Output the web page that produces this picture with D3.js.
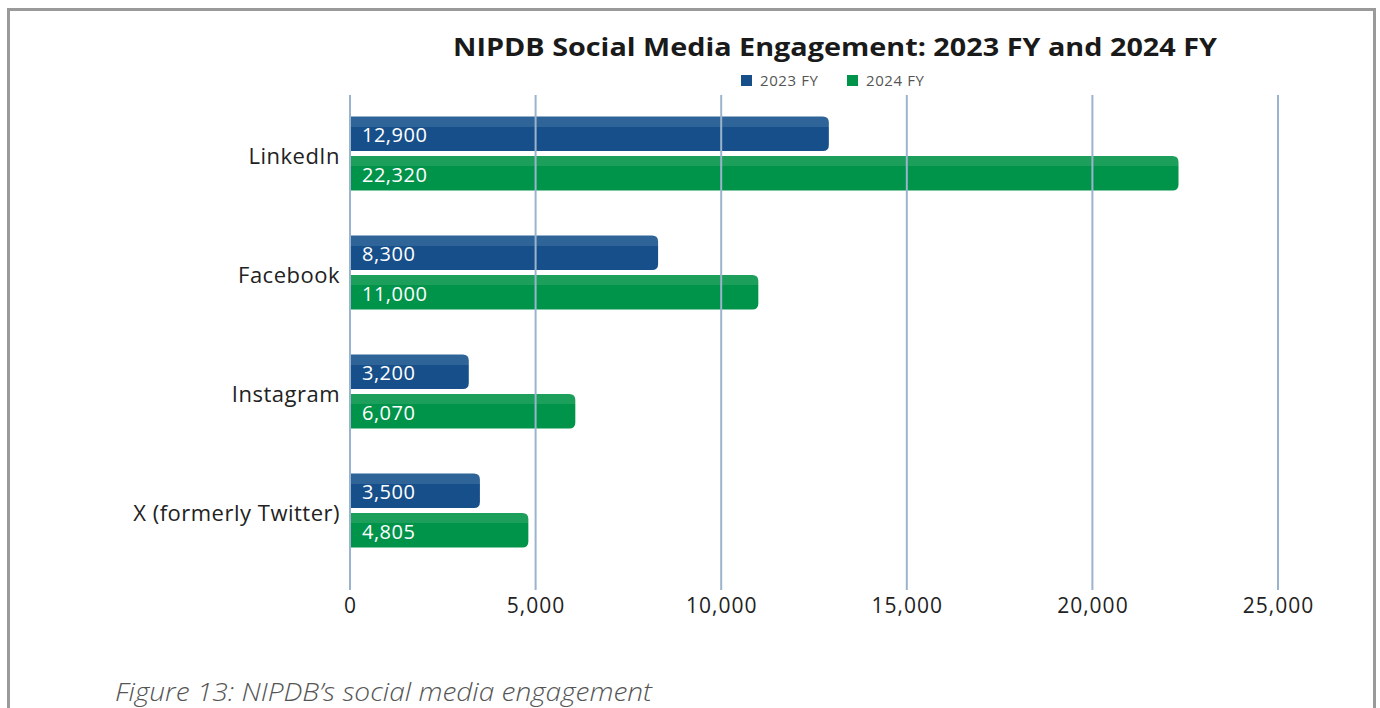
<!DOCTYPE html>
<html>
<head>
<meta charset="utf-8">
<script src="https://cdn.jsdelivr.net/npm/d3@7"></script>
<style>
  body { margin: 0; background: #fff; }
  svg { display: block; font-family: "Open Sans", "Noto Sans", sans-serif; }
</style>
</head>
<body>
<svg id="chart" width="1380" height="708"></svg>
<script>
const platforms = ['LinkedIn', 'Facebook', 'Instagram', 'X (formerly Twitter)'];
const seriesNames = ['2023 FY', '2024 FY'];
const values2023 = [12900, 8300, 3200, 3500];
const values2024 = [22320, 11000, 6070, 4805];
const xTicks = [0, 5000, 10000, 15000, 20000, 25000];

const colors = { '2023 FY': ['#2e6497', '#174f8a'], '2024 FY': ['#1c9f5b', '#00944a'] };

const svg = d3.select('#chart');

// outer frame (bottom edge falls outside the picture)
svg.append('rect')
  .attr('x', 8.5).attr('y', 9.5)
  .attr('width', 1366).attr('height', 740)
  .attr('fill', 'none')
  .attr('stroke', '#9a9a9a')
  .attr('stroke-width', 3);

const defs = svg.append('defs');
seriesNames.forEach((s, i) => {
  const g = defs.append('linearGradient')
    .attr('id', 'grad' + i)
    .attr('x1', 0).attr('y1', 0).attr('x2', 0).attr('y2', 1);
  g.append('stop').attr('offset', 0).attr('stop-color', colors[s][0]);
  g.append('stop').attr('offset', 0.3).attr('stop-color', colors[s][0]);
  g.append('stop').attr('offset', 0.3).attr('stop-color', colors[s][1]);
  g.append('stop').attr('offset', 1).attr('stop-color', colors[s][1]);
});

const x = d3.scaleLinear().domain([0, 25000]).range([350, 1278]);

const y = d3.scaleBand()
  .domain(platforms)
  .range([94, 570])
  .paddingInner(0.378)
  .paddingOuter(0.189);

const ySub = d3.scaleBand()
  .domain(seriesNames)
  .range([0, y.bandwidth()])
  .paddingInner(0.13);

const rows = platforms.map((p, i) => ({
  platform: p,
  bars: [
    { series: '2023 FY', idx: 0, value: values2023[i] },
    { series: '2024 FY', idx: 1, value: values2024[i] }
  ]
}));

function barPath(x0, x1, y0, h, r) {
  return `M${x0},${y0}H${x1 - r}Q${x1},${y0} ${x1},${y0 + r}V${y0 + h - r}Q${x1},${y0 + h} ${x1 - r},${y0 + h}H${x0}Z`;
}

// title
svg.append('text')
  .attr('x', 835).attr('y', 56)
  .attr('text-anchor', 'middle')
  .attr('textLength', 764)
  .attr('lengthAdjust', 'spacingAndGlyphs')
  .style('font-size', '25px')
  .style('font-weight', 'bold')
  .style('fill', '#1a1a1a')
  .text('NIPDB Social Media Engagement: 2023 FY and 2024 FY');

// legend
const legend = svg.append('g');
[741, 847].forEach((lx, i) => {
  legend.append('rect')
    .attr('x', lx).attr('y', 75)
    .attr('width', 11).attr('height', 11)
    .attr('fill', colors[seriesNames[i]][1]);
  legend.append('text')
    .attr('x', lx + 19).attr('y', 86)
    .style('font-size', '15px')
    .style('letter-spacing', '0.6px')
    .style('fill', '#555')
    .text(seriesNames[i]);
});

// bars
const groups = svg.append('g').selectAll('g')
  .data(rows)
  .join('g')
  .attr('transform', d => `translate(0,${y(d.platform)})`);

groups.selectAll('path')
  .data(d => d.bars)
  .join('path')
  .attr('d', d => barPath(x(0), x(d.value), ySub(d.series), ySub.bandwidth(), 6))
  .attr('fill', d => `url(#grad${d.idx})`);

// gridlines over the bars
svg.append('g')
  .selectAll('line')
  .data(xTicks)
  .join('line')
  .attr('x1', d => x(d)).attr('x2', d => x(d))
  .attr('y1', 95).attr('y2', 590)
  .attr('stroke', '#9bb4cd')
  .attr('stroke-width', 2);

// value labels
groups.selectAll('text.val')
  .data(d => d.bars)
  .join('text')
  .attr('class', 'val')
  .attr('x', x(0) + 12)
  .attr('y', d => ySub(d.series) + ySub.bandwidth() / 2 + 1.5)
  .attr('dy', '0.36em')
  .style('font-size', '20px')
  .style('letter-spacing', '0.5px')
  .style('fill', '#fff')
  .text(d => d3.format(',')(d.value));

// category labels
svg.append('g')
  .attr('transform', 'translate(340,3)')
  .call(d3.axisLeft(y).tickSize(0).tickPadding(0))
  .call(g => g.select('.domain').remove())
  .call(g => g.selectAll('text')
    .style('font-family', '"Open Sans", sans-serif')
    .style('font-size', '22px')
    .style('letter-spacing', '0.5px')
    .style('fill', '#222'));

// x tick labels
svg.append('g')
  .attr('transform', 'translate(0,590)')
  .call(d3.axisBottom(x).tickValues(xTicks).tickFormat(d3.format(',')).tickSize(0).tickPadding(8))
  .call(g => g.select('.domain').remove())
  .call(g => g.selectAll('text')
    .style('font-family', '"Open Sans", sans-serif')
    .style('font-size', '21px')
    .style('letter-spacing', '1px')
    .style('fill', '#222'));

// caption
svg.append('text')
  .attr('x', 115).attr('y', 701)
  .attr('textLength', 537)
  .attr('lengthAdjust', 'spacingAndGlyphs')
  .style('font-size', '25px')
  .style('font-style', 'italic')
  .style('font-weight', 300)
  .style('fill', '#555')
  .text('Figure 13: NIPDB\u2019s social media engagement');
</script>
</body>
</html>
